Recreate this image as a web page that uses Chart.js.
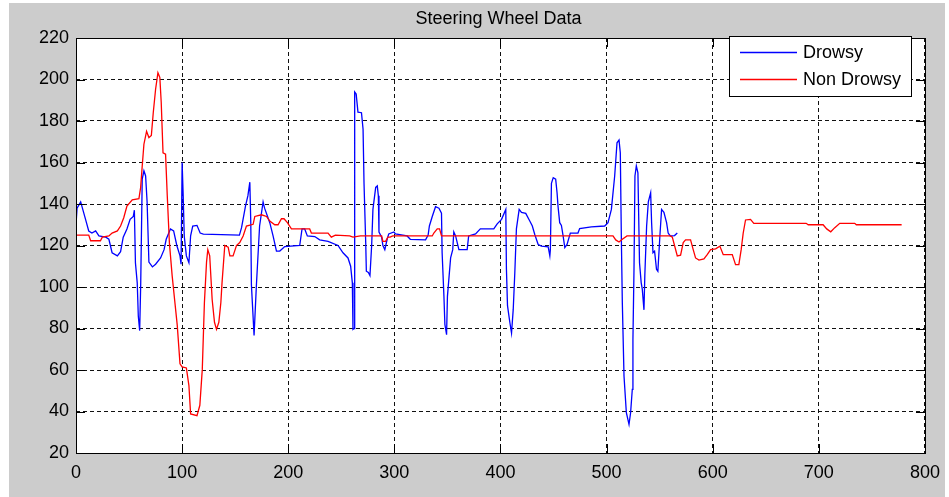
<!DOCTYPE html>
<html>
<head>
<meta charset="utf-8">
<title>Steering Wheel Data</title>
<script src="https://cdn.jsdelivr.net/npm/chart.js@4.4.1/dist/chart.umd.min.js"></script>
<style>
  body { margin: 0; background: #fff; }
  canvas { display: block; }
</style>
</head>
<body>
<canvas id="steering" width="949" height="497"></canvas>
<script>
// values
const drowsyX = [0, 1, 4.4, 9, 12, 15, 18.5, 21.6, 28, 31, 34, 39, 42, 44.5, 48, 51, 54, 55, 56, 57.7,
  58.7, 60, 61, 62.4, 64, 65.6, 67, 68.7, 72, 75, 79.7, 83, 85, 89, 92, 95, 98, 99, 100, 101,
  102, 104, 106.4, 108, 110, 114, 117, 120, 154, 156, 159.7, 162, 163.8, 164.7, 165.3, 167.8, 170, 173, 176.3, 177.7,
  182.6, 185.7, 188.9, 192, 196.7, 210.8, 213, 215.5, 218, 225, 229.6, 237.5, 246.9, 251.6, 256.3, 258.8, 260.4, 261, 262, 262.6,
  264, 265.7, 269, 270.5, 271.4, 273, 273.6, 275.5, 277, 278.6, 279.8, 282.4, 283.9, 284.9, 285.5, 288, 289.2, 291, 293.2, 294.7,
  299.6, 301, 312, 315, 329.4, 331.8, 333, 335.7, 338.8, 342, 344.4, 345, 346.7, 347.6, 349.2, 350, 353, 355, 356, 357.7,
  360.8, 368.6, 370, 376.5, 381, 393.7, 396.9, 401, 405, 405.6, 406.6, 408.8, 410.4, 412, 413.5, 415, 417.6, 419.8, 423.8, 427.6,
  430, 432.3, 435.5, 438.6, 444.9, 446.5, 447, 448, 449.7, 452, 453.3, 454.2, 455.8, 457.4, 459, 460.6, 462.7, 465.8, 473, 474.6,
  485.6, 498.2, 501.3, 504.5, 507.6, 509.8, 511.7, 512.9, 513.9, 514.8, 516.4, 518.6, 521.1, 522.6, 524.2, 524.8, 525.8, 526.7, 528, 529.5,
  531, 532.6, 533.6, 535.2, 536, 537.7, 539.3, 541.5, 542.4, 543.7, 545.2, 547, 548.3, 550.2, 551.8, 554, 556.5, 558, 560, 564, 566.6];
const drowsyY = [130, 138, 141, 132.6, 127, 126, 127, 124.6, 124, 123, 116.5, 115, 117, 124, 128, 132.6, 134, 137, 111.7, 102,
  86, 79, 102, 152, 156, 153.5, 141, 112, 109.7, 111, 114, 118, 123, 128, 127, 120, 115, 111, 160, 144,
  124.6, 115, 111.7, 124.6, 129.4, 129.7, 126, 125.5, 125, 128.6, 139, 144, 150.5, 131, 101, 76.6, 101, 129.4, 141, 138,
  131, 124.6, 117.3, 117.3, 119.5, 120, 128, 128, 124.6, 124.3, 122.7, 122, 120, 116.5, 114, 110, 102, 79.6, 80, 194,
  193, 184.3, 184, 176, 150, 121.4, 107.6, 107, 105.5, 120, 137.4, 148, 148.7, 144, 126.5, 124, 120, 118, 123, 125.6,
  126.5, 125.6, 124.6, 123, 122.7, 125, 129.4, 134, 138.7, 138, 135.6, 116.5, 95.5, 82, 77, 95.5, 114, 118, 126.5, 124.6,
  118, 118, 124.6, 125.6, 128, 128, 130.4, 132.6, 137.4, 108.6, 91, 83, 77.8, 89.2, 107, 128, 137.4, 136, 135.5, 131.8,
  129.4, 125.3, 120.5, 119.7, 119.4, 115, 118, 150, 152.7, 152, 145.4, 139, 131, 129.7, 124.6, 119, 120.5, 126, 126, 128.2,
  129, 129.4, 131, 137.4, 153.5, 169.5, 170.8, 164.7, 123, 92.5, 57, 39.4, 33.8, 39.4, 50.7, 74.8, 108.6, 153.5, 158.4, 155,
  111.7, 102, 99, 89, 105.5, 129.4, 141, 145.4, 131, 116.5, 117.3, 108.6, 107.6, 124.6, 137.4, 136, 131, 126, 124.6, 124.8, 126];

const nonDrowsyX = [0, 12, 13.8, 23, 24.8, 31, 34, 39, 42, 45, 48, 53, 59.3, 60.9, 62.4, 64, 66.5, 68.7, 71, 72.8,
  75, 77.2, 79, 80.3, 82, 84.4, 86, 88, 90.6, 92.9, 95.4, 98, 100, 104, 106.4, 108, 114, 116.7, 119, 121,
  123, 124.2, 126, 128.3, 130.5, 132.4, 134.6, 136.5, 137.6, 140.2, 143.4, 145, 148, 151.2, 154.3, 157.5, 160.6, 166.9, 168.5, 174.8,
  179.5, 182.6, 187.3, 190.4, 193.6, 196, 199.2, 203, 220.2, 221.8, 237.5, 240.6, 244.4, 257.9, 261, 268, 288, 289.2, 291.7, 293.9,
  296, 298.5, 335.7, 337.2, 340.4, 342.6, 344.4, 506, 508.6, 511.7, 514.8, 519.2, 560.3, 561.9, 564, 566.6, 569.7, 572.2, 574.4, 579.1,
  581.6, 583.8, 587, 591.7, 594.8, 598, 602.7, 606.7, 609.9, 618.4, 621.5, 624.6, 626.8, 628.7, 630.9, 635.6, 638.7, 688, 690, 704,
  707.4, 711.2, 715, 719.7, 733.8, 735.3, 778];
const nonDrowsyY = [125, 125, 122.3, 122.3, 124, 124.6, 126, 127, 129.4, 133.4, 139, 142, 142.6, 147.9, 158.3, 168.8, 175, 172, 173, 184,
  195.3, 203.3, 201, 189, 164.7, 164, 144, 121.4, 105.5, 94, 81.6, 63, 61.5, 61, 52.5, 38.8, 38, 43, 60.3, 92.5,
  112, 118, 115, 94, 83, 79.6, 83, 92.5, 102, 120, 119.2, 115, 115, 120, 121.4, 124.6, 129.4, 130.2, 134, 134.8,
  134, 131.8, 130, 130, 132.9, 132.9, 131, 128, 128, 126, 126, 124, 125, 124.6, 124, 124.6, 124.6, 122, 122, 124,
  124, 124.6, 124.6, 126, 128, 128, 124.6, 124.6, 122.7, 121.7, 123, 124.6, 124.6, 124, 120, 115, 115.3, 121.4, 122.7, 122.7,
  118, 114, 113, 113.5, 115.6, 118, 118.4, 119.7, 115.6, 115.6, 110.8, 110.8, 118, 126, 132.3, 132.6, 130.7, 130.7, 130, 130,
  128, 126.6, 128.6, 130.7, 130.7, 130, 130];

const xTicks = [0, 100, 200, 300, 400, 500, 600, 700, 800];
const yTicks = [20, 40, 60, 80, 100, 120, 140, 160, 180, 200, 220];
const titleText = 'Steering Wheel Data';

function toPoints(xs, ys) {
  return xs.map((x, i) => ({ x: x, y: ys[i] }));
}

const FONT = 'Liberation Sans, Arial, sans-serif';
Chart.defaults.font.family = FONT;
Chart.defaults.font.size = 18;
Chart.defaults.color = '#000';

// grey figure, white axes box, inner ticks, title and a boxed legend like matlab
const matlabLook = {
  id: 'matlabLook',
  beforeDraw(chart) {
    const { ctx, chartArea: a } = chart;
    ctx.save();
    ctx.fillStyle = '#fff';
    ctx.fillRect(0, 0, chart.width, chart.height);
    ctx.fillStyle = '#cccccc';
    ctx.fillRect(9, 3, 936, 494);
    ctx.fillStyle = '#fff';
    ctx.fillRect(a.left, a.top, a.right - a.left, a.bottom - a.top);
    ctx.restore();
  },
  afterDatasetsDraw(chart) {
    const { ctx, chartArea: a, scales } = chart;
    const t = 9;
    ctx.save();
    ctx.strokeStyle = '#000';
    ctx.lineWidth = 1;
    ctx.beginPath();
    scales.x.ticks.forEach(tk => {
      const px = Math.round(scales.x.getPixelForValue(tk.value)) + 0.5;
      ctx.moveTo(px, a.bottom); ctx.lineTo(px, a.bottom - t);
      ctx.moveTo(px, a.top); ctx.lineTo(px, a.top + t);
    });
    scales.y.ticks.forEach(tk => {
      const py = Math.round(scales.y.getPixelForValue(tk.value)) + 0.5;
      ctx.moveTo(a.left, py); ctx.lineTo(a.left + t, py);
      ctx.moveTo(a.right, py); ctx.lineTo(a.right - t, py);
    });
    ctx.stroke();
    ctx.strokeRect(Math.round(a.left) + 0.5, Math.round(a.top) + 0.5,
      Math.round(a.right - a.left), Math.round(a.bottom - a.top));

    // title over the axes
    ctx.font = '18px ' + FONT;
    ctx.fillStyle = '#000';
    ctx.textAlign = 'center';
    ctx.textBaseline = 'alphabetic';
    ctx.fillText(titleText, (a.left + a.right) / 2 - 2, 24);

    // legend
    const bx = 729.5, by = 36.5, bw = 182, bh = 60;
    ctx.fillStyle = '#fff';
    ctx.fillRect(bx, by, bw, bh);
    ctx.strokeRect(bx, by, bw, bh);
    ctx.textBaseline = 'middle';
    ctx.textAlign = 'left';
    chart.data.datasets.forEach((ds, i) => {
      const y = 52.5 + i * 27;
      ctx.strokeStyle = ds.borderColor;
      ctx.lineWidth = 1.3;
      ctx.beginPath();
      ctx.moveTo(740, y); ctx.lineTo(797, y);
      ctx.stroke();
      ctx.fillStyle = '#000';
      ctx.fillText(ds.label, 803, y + 1);
    });
    ctx.restore();
  }
};

new Chart(document.getElementById('steering'), {
  type: 'line',
  data: {
    datasets: [{
      label: 'Drowsy',
      data: toPoints(drowsyX, drowsyY),
      borderColor: '#0000ff',
      borderWidth: 1.3,
      pointRadius: 0,
      order: 1
    }, {
      label: 'Non Drowsy',
      data: toPoints(nonDrowsyX, nonDrowsyY),
      borderColor: '#ff0000',
      borderWidth: 1.3,
      pointRadius: 0,
      order: 0
    }]
  },
  options: {
    responsive: false,
    animation: false,
    layout: { padding: { left: 0, right: 23, top: 38, bottom: 0 } },
    plugins: {
      legend: { display: false },
      tooltip: { enabled: false },
      title: { display: false }
    },
    scales: {
      x: {
        type: 'linear',
        min: 0,
        max: 800,
        afterBuildTicks: s => { s.ticks = xTicks.map(v => ({ value: v })); },
        afterFit: s => { s.height = 44; },
        ticks: { padding: 9, maxRotation: 0, autoSkip: false },
        grid: { color: '#111', lineWidth: 1, drawTicks: false },
        border: { display: false, dash: [4, 3] }
      },
      y: {
        min: 20,
        max: 220,
        afterBuildTicks: s => { s.ticks = yTicks.map(v => ({ value: v })); },
        afterFit: s => { s.width = 76; },
        ticks: { padding: 7 },
        grid: { color: '#111', lineWidth: 1, drawTicks: false },
        border: { display: false, dash: [4, 3] }
      }
    }
  },
  plugins: [matlabLook]
});
</script>
</body>
</html>
